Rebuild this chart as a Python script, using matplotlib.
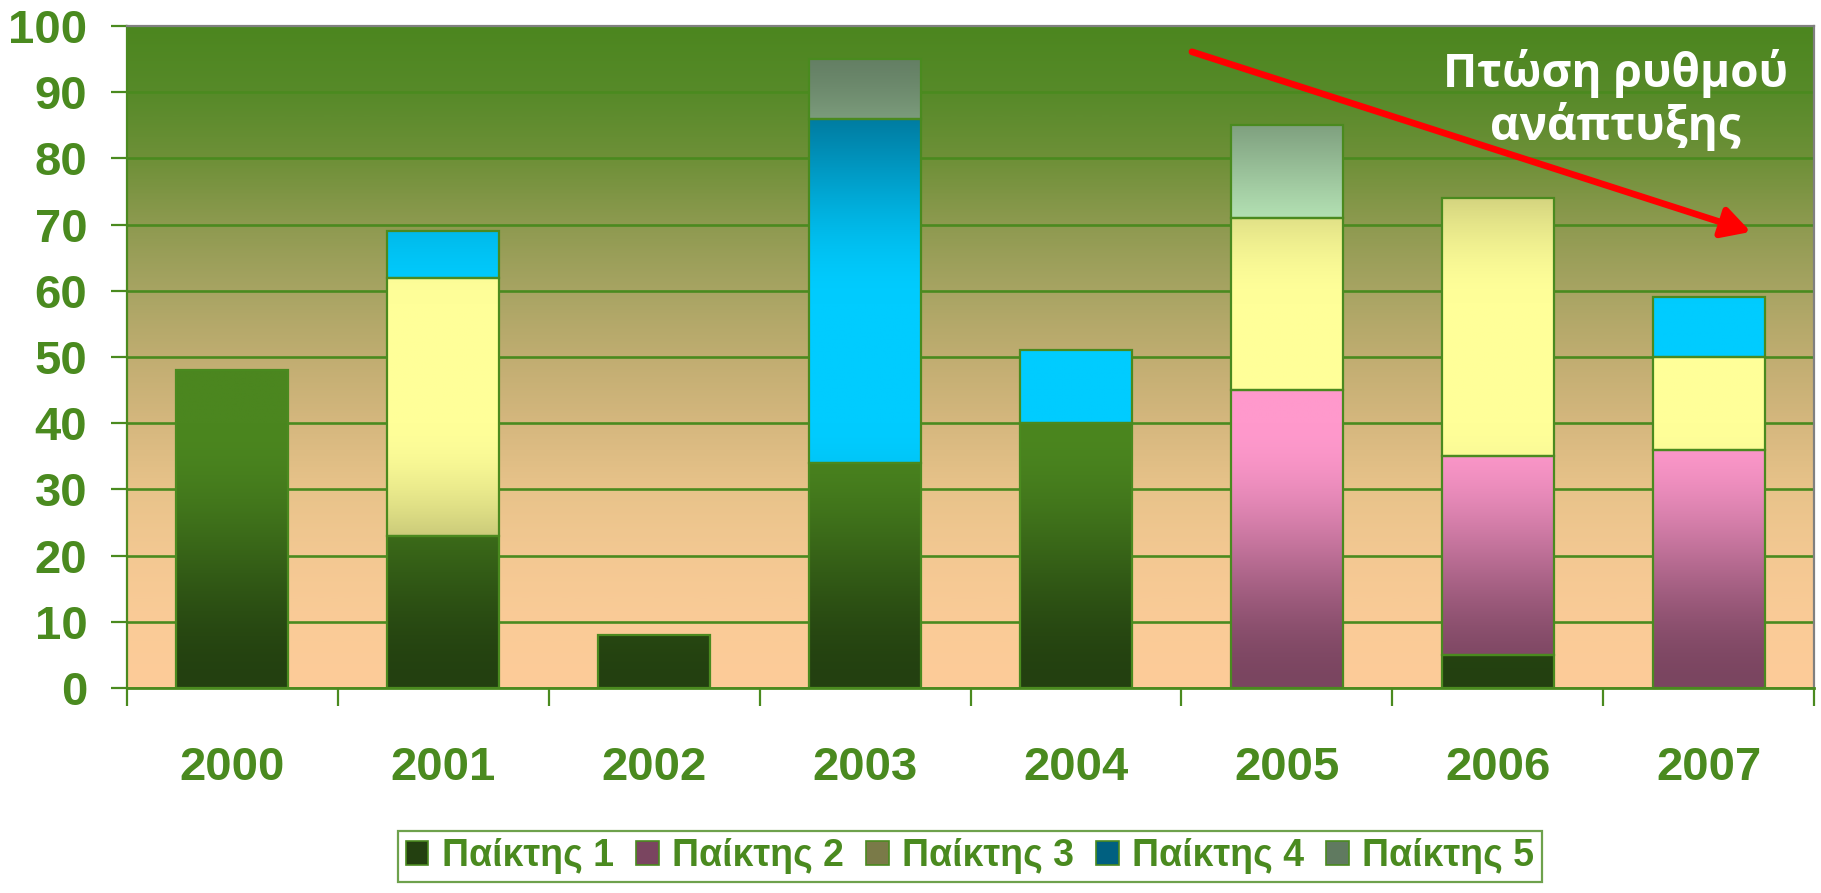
import numpy as np
import matplotlib
matplotlib.use('Agg')
import matplotlib.pyplot as plt
from matplotlib.colors import LinearSegmentedColormap, to_rgb
from matplotlib.patches import Patch

# ---------------- data ----------------
years = ['2000', '2001', '2002', '2003', '2004', '2005', '2006', '2007']
player_names = ['Παίκτης 1', 'Παίκτης 2', 'Παίκτης 3', 'Παίκτης 4', 'Παίκτης 5']
player1 = [48, 23, 8, 34, 40, 0, 5, 0]
player2 = [0, 0, 0, 0, 0, 45, 30, 36]
player3 = [0, 39, 0, 0, 0, 26, 39, 14]
player4 = [0, 7, 0, 52, 11, 0, 0, 9]
player5 = [0, 0, 0, 9, 0, 14, 0, 0]
y_ticks = [0, 10, 20, 30, 40, 50, 60, 70, 80, 90, 100]
annotation_text = 'Πτώση ρυθμού\nανάπτυξης'

# ---------------- style ----------------
plt.rcParams['font.family'] = ['Liberation Sans', 'DejaVu Sans']
plt.rcParams['font.weight'] = 'bold'
GREEN = '#4a8a1f'
dark_colors = ['#234010', '#7a4560', '#7a7a48', '#006080', '#607a60']
light_colors = ['#4b861f', '#ff99cc', '#ffff99', '#00ccff', '#ccffcc']
bg_stops = [(0, '#fdcc99'), (10, '#facb97'), (20, '#f3c892'), (30, '#e8c38a'),
            (40, '#d5b77e'), (50, '#c0ad71'), (60, '#a8a463'), (70, '#8e9a50'),
            (80, '#6e9038'), (90, '#578a29'), (100, '#4c861f')]

fig = plt.figure(figsize=(18.21, 8.93), dpi=100)
ax = fig.add_axes([0.0697, 0.2296, 0.9962 - 0.0697, 0.9709 - 0.2296])

x = np.arange(len(years))

# background gradient (in value space)
vals = np.linspace(0, 100, 501)
bg_cmap = LinearSegmentedColormap.from_list('bg', [(v / 100, c) for v, c in bg_stops])
ax.imshow(vals[:, None], cmap=bg_cmap, vmin=0, vmax=100, extent=(-0.5, 7.5, 0, 100),
          origin='lower', aspect='auto', zorder=0, interpolation='bilinear')


def brightness(v):
    u = np.where(v <= 40, v / 40.0, np.where(v >= 58, (100 - v) / 42.0, 1.0))
    u = np.clip(u, 0, 1)
    return 3 * u ** 2 - 2 * u ** 3


def gradient_image(dark, light):
    s = brightness(vals)[:, None]
    d = np.array(to_rgb(dark))[None, :]
    l = np.array(to_rgb(light))[None, :]
    rgb = d * (1 - s) + l * s
    return rgb[:, None, :]


series = [player1, player2, player3, player4, player5]
bottom = np.zeros(len(years))
for i, s_vals in enumerate(series):
    arr = np.array(s_vals, dtype=float)
    bars = ax.bar(x, arr, 0.53, bottom=bottom, facecolor='none', edgecolor=GREEN,
                  linewidth=1.6, zorder=3)
    grad = gradient_image(dark_colors[i], light_colors[i])
    for rect, h in zip(bars, arr):
        if h <= 0:
            rect.set_visible(False)
            continue
        im = ax.imshow(grad, extent=(rect.get_x(), rect.get_x() + rect.get_width(), 0, 100),
                       origin='lower', aspect='auto', zorder=2, interpolation='bilinear')
        im.set_clip_path(rect)
    bottom += arr

ax.set_xlim(-0.5, 7.5)
ax.set_ylim(0, 100)

# grid
ax.set_axisbelow(True)
ax.yaxis.grid(True, color=GREEN, linewidth=1.9)
ax.xaxis.grid(False)

# ticks
ax.set_yticks(y_ticks)
ax.tick_params(axis='y', direction='out', length=11.5, width=1.6, color=GREEN,
               labelsize=34, labelcolor=GREEN, pad=17)
ax.set_xticks(x)
ax.set_xticklabels(years)
ax.tick_params(axis='x', which='major', length=0, pad=42, labelsize=34, labelcolor=GREEN)
ax.set_xticks(np.arange(-0.5, len(years), 1.0), minor=True)
ax.tick_params(axis='x', which='minor', direction='out', length=13, width=1.6, color=GREEN)

# spines
ax.spines['left'].set_color(GREEN)
ax.spines['left'].set_linewidth(1.6)
ax.spines['bottom'].set_color(GREEN)
ax.spines['bottom'].set_linewidth(2.0)
ax.spines['top'].set_color('#808080')
ax.spines['top'].set_linewidth(1.6)
ax.spines['right'].set_color('#808080')
ax.spines['right'].set_linewidth(1.6)

# arrow and annotation
ax.annotate('', xy=(7.20, 68.9), xytext=(4.55, 96.1),
            arrowprops=dict(arrowstyle='-|>,head_length=1.0,head_width=0.55',
                            mutation_scale=17, color='#ff0000', lw=4.8,
                            shrinkA=0, shrinkB=0), zorder=5)
ax.text(6.557, 88.8, annotation_text, ha='center', va='center', color='white',
        fontsize=33, fontweight='bold', family=['Open Sans', 'DejaVu Sans'],
        zorder=6, linespacing=1.1, multialignment='center')

# legend
handles = [Patch(facecolor=c, edgecolor=GREEN, linewidth=1.2) for c in dark_colors]
leg = fig.legend(handles, player_names, loc='center', bbox_to_anchor=(0.5327, 0.0414),
                 ncol=5, frameon=True, fancybox=False, edgecolor=GREEN,
                 prop={'weight': 'bold', 'size': 27}, labelcolor=GREEN,
                 handlelength=0.6, handleheight=0.6, handletextpad=0.35,
                 columnspacing=0.6, borderpad=0.2)
leg.get_frame().set_linewidth(1.6)
leg.get_frame().set_facecolor('white')

fig.savefig('out.png', dpi=100)
